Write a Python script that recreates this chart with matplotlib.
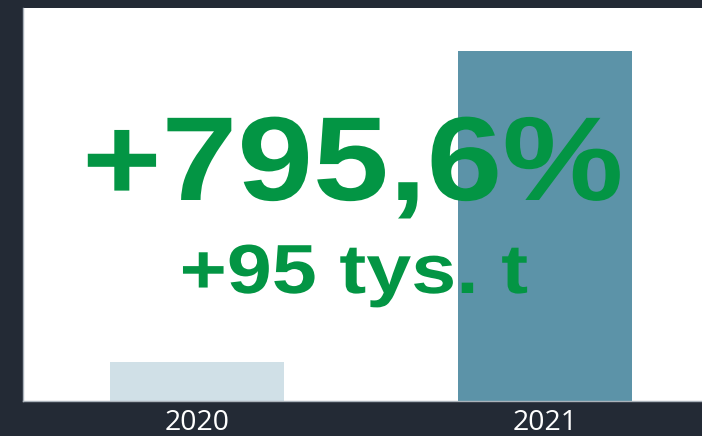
import matplotlib.pyplot as plt
from matplotlib.patheffects import AbstractPathEffect
from matplotlib.transforms import Affine2D

years = ['2020', '2021']
values = [11.9, 106.9]  # tys. t
bar_colors = ['#d0e0e7', '#5c93a8']
change_pct = '+795,6%'
change_abs = '+95 tys. t'

bg = '#232a35'
green = '#039544'


class Widen(AbstractPathEffect):
    # stretch the glyphs sideways, the text stays a normal Text artist
    def __init__(self, sx):
        super().__init__()
        self.sx = sx

    def draw_path(self, renderer, gc, tpath, affine, rgbFace=None):
        ext = tpath.get_extents()
        cx = (ext.x0 + ext.x1) / 2
        stretch = Affine2D().translate(-cx, 0).scale(self.sx, 1).translate(cx, 0)
        renderer.draw_path(gc, tpath, stretch + affine, rgbFace)


fig = plt.figure(figsize=(7.02, 4.36), dpi=100, facecolor=bg)
ax = fig.add_axes([23 / 702, 35 / 436, 679 / 702, 393 / 436])
ax.set_facecolor('white')

ax.bar(range(len(years)), values, width=0.5, color=bar_colors)
ax.set_xlim(-0.5, 1.451)
ax.set_ylim(0, 120)

ax.set_xticks(range(len(years)))
ax.set_xticklabels(years, color='white', fontsize=20.5, family='Open Sans')
ax.tick_params(axis='x', length=0, pad=6)
ax.set_yticks([])
for side in ['top', 'right']:
    ax.spines[side].set_visible(False)
for side in ['left', 'bottom']:
    ax.spines[side].set_color('#aab2ba')
    ax.spines[side].set_linewidth(1)

fig.text(353 / 702, (436 - 200) / 436, change_pct, ha='center', va='baseline',
         color=green, fontsize=86, fontweight='bold', family='Liberation Sans',
         path_effects=[Widen(1.14)])
fig.text(354 / 702, (436 - 293) / 436, change_abs, ha='center', va='baseline',
         color=green, fontsize=50, fontweight='bold', family='Liberation Sans',
         path_effects=[Widen(1.165)])

fig.savefig('out.png', dpi=100, facecolor=bg)
